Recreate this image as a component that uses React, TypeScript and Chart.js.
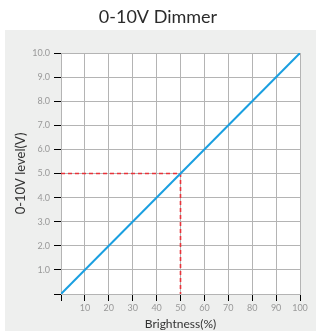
import React, { useEffect, useRef } from "react";
import { Chart, registerables } from "chart.js";

Chart.register(...registerables);

const titleText = "0-10V Dimmer";
const xAxisTitle = "Brightness(%)";
const yAxisTitle = "0-10V level(V)";
const brightness = [0, 100];
const level = [0, 10];
const markX = [0, 50, 50];
const markY = [5, 5, 0];

const panelPlugin = {
  id: "panel",
  beforeDraw(chart: any) {
    const { ctx, chartArea } = chart;
    ctx.save();
    ctx.fillStyle = "#ffffff";
    ctx.fillRect(0, 0, chart.width, chart.height);
    ctx.fillStyle = "#eeefee";
    ctx.fillRect(5, 30, chart.width - 5, chart.height - 30);
    ctx.fillStyle = "#ffffff";
    ctx.fillRect(chartArea.left, chartArea.top, chartArea.right - chartArea.left, chartArea.bottom - chartArea.top);
    ctx.fillStyle = "#2b2b2b";
    ctx.font = "18px Lato";
    ctx.textAlign = "center";
    ctx.textBaseline = "middle";
    ctx.fillText(titleText, 158, 17);
    ctx.restore();
  },
};

export default function App() {
  const ref = useRef<HTMLCanvasElement>(null);
  useEffect(() => {
    if (!ref.current) return;
    const chart = new Chart(ref.current, {
      type: "line",
      data: {
        datasets: [
          {
            data: brightness.map((x, i) => ({ x, y: level[i] })),
            borderColor: "#1a9fe0",
            borderWidth: 2,
            pointRadius: 0,
            fill: false,
            order: 0,
          },
          {
            data: markX.map((x, i) => ({ x, y: markY[i] })),
            borderColor: "#e8333a",
            borderWidth: 1.6,
            borderDash: [4, 3],
            pointRadius: 0,
            fill: false,
            order: 1,
          },
        ],
      },
      options: {
        animation: false,
        responsive: false,
        maintainAspectRatio: false,
        layout: { padding: { left: 5, right: 16, top: 53, bottom: 0 } },
        plugins: { legend: { display: false }, tooltip: { enabled: false }, title: { display: false } },
        scales: {
          x: {
            type: "linear",
            min: 0,
            max: 100,
            afterFit: (s: any) => { s.height = 37; },
            ticks: {
              stepSize: 10,
              padding: 2,
              color: "#999999",
              font: { family: "Lato", size: 9 },
              maxRotation: 0,
              callback: (v: any) => (v === 0 ? "" : String(v)),
            },
            grid: { color: "#b4b4b4", lineWidth: 1, tickColor: "#000000", tickLength: 7 },
            border: { color: "#b4b4b4" },
            title: { display: true, text: xAxisTitle, color: "#333333", font: { family: "Lato", size: 12 }, padding: { top: 1, bottom: 0 } },
          },
          y: {
            type: "linear",
            min: 0,
            max: 10,
            afterFit: (s: any) => { s.width = 56; },
            ticks: {
              stepSize: 1,
              padding: 4,
              color: "#999999",
              font: { family: "Lato", size: 9 },
              callback: (v: any) => (v === 0 ? "" : Number(v).toFixed(1)),
            },
            grid: { color: "#b4b4b4", lineWidth: 1, tickColor: "#000000", tickLength: 7 },
            border: { color: "#b4b4b4" },
            title: { display: true, text: yAxisTitle, color: "#333333", font: { family: "Lato", size: 13 }, padding: { top: 8, bottom: 0 } },
          },
        },
      },
      plugins: [panelPlugin],
    });
    return () => chart.destroy();
  }, []);
  return (
    <div style={{ position: "absolute", left: 0, top: 0, width: 316, height: 331 }}>
      <canvas ref={ref} width={316} height={331} style={{ display: "block", width: 316, height: 331 }} />
    </div>
  );
}
